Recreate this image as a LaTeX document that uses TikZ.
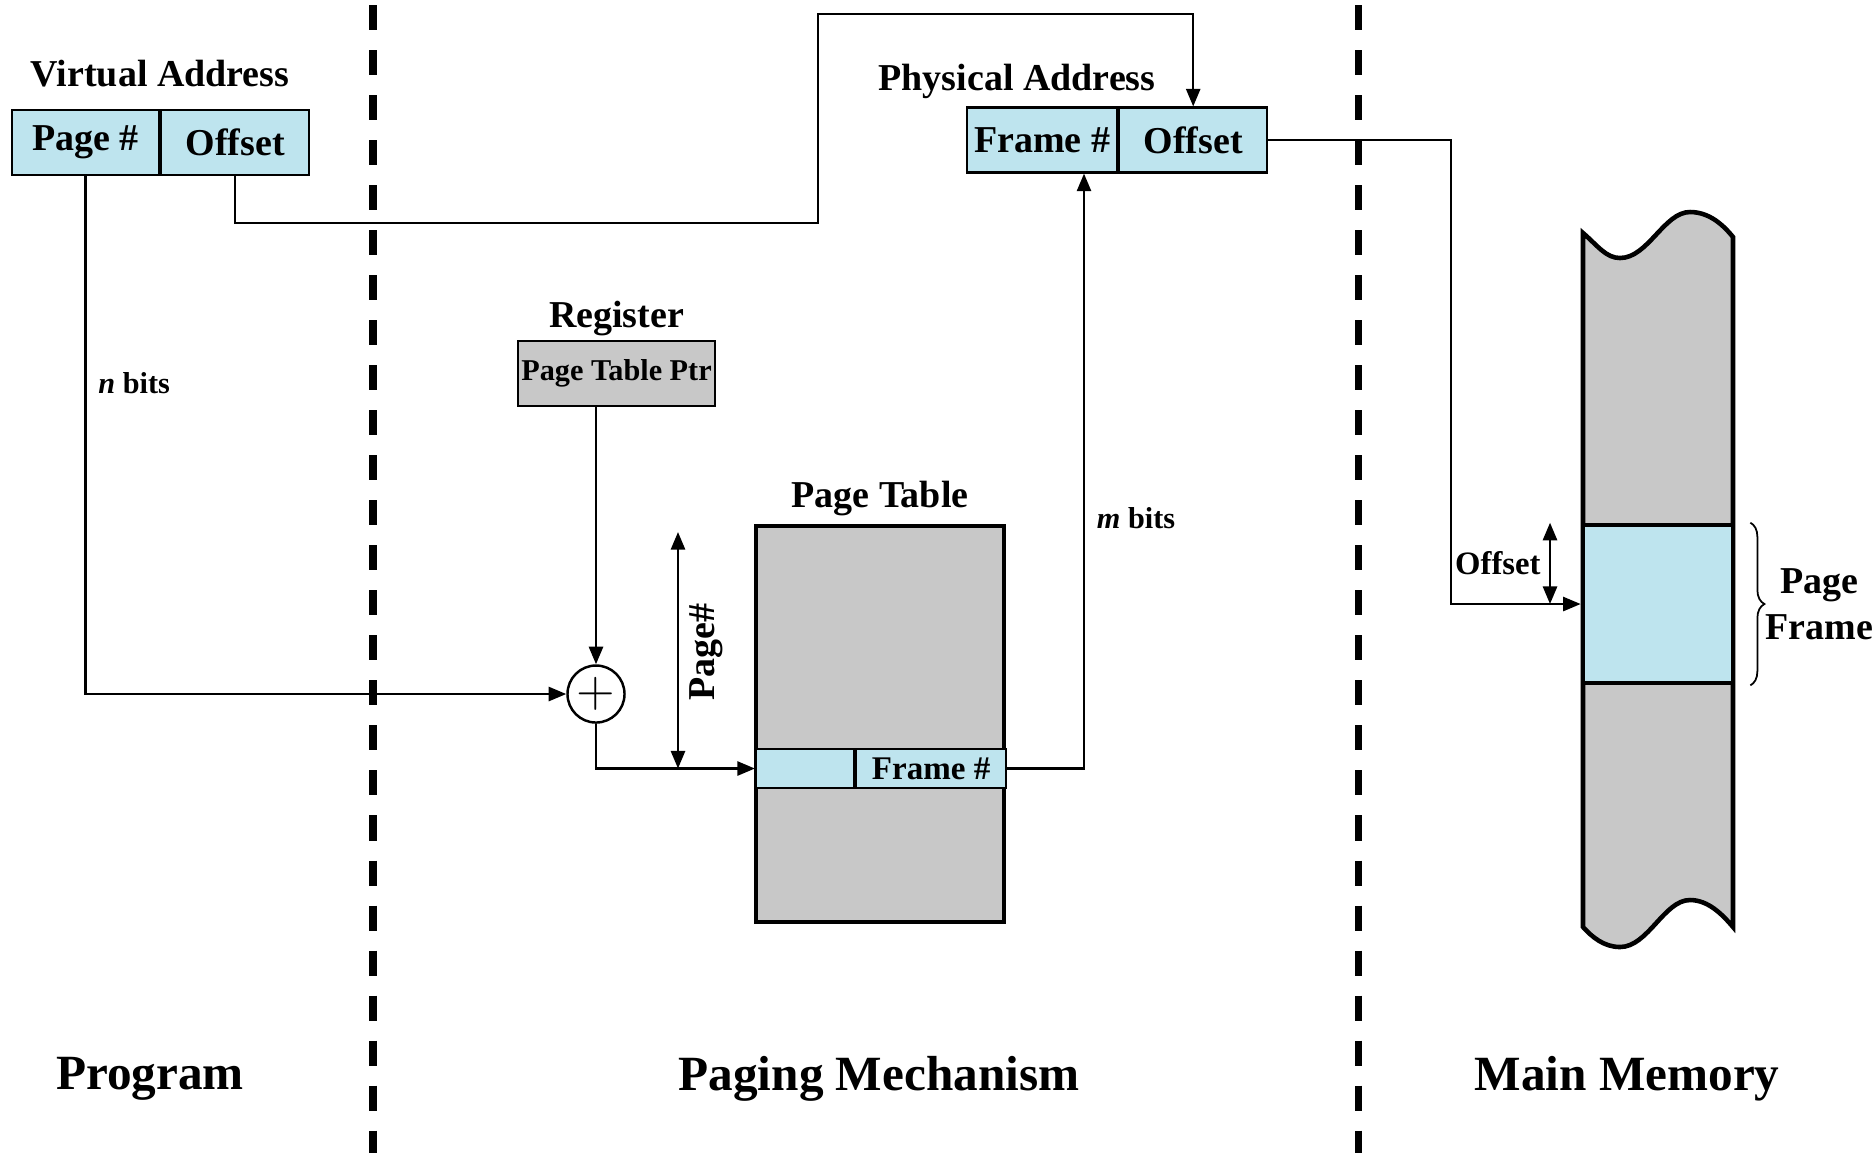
\documentclass[tikz,border=0pt]{standalone}
\usepackage{fontspec}
\setmainfont{Liberation Serif}
\usepackage{xcolor}
\usepackage{tikz}
\usetikzlibrary{arrows.meta,positioning,decorations.pathreplacing}

\definecolor{fieldblue}{RGB}{190,228,238}
\definecolor{tablegray}{RGB}{200,200,200}

\begin{document}
\begin{tikzpicture}[
x=0.01cm, y=-0.01cm,
field/.style={
draw,
fill=fieldblue,
line width=0.6pt,
minimum height=0.65cm,
inner sep=0pt,
font=\fontsize{10.8}{13}\selectfont\bfseries
},
title/.style={
font=\fontsize{10.8}{13}\selectfont\bfseries,
inner sep=1pt
},
small/.style={
font=\fontsize{8.6}{10}\selectfont\bfseries
},
region/.style={
font=\fontsize{14}{17}\selectfont\bfseries
},
arrow/.style={
-{Triangle[length=5pt,width=4pt]},
line width=0.7pt
},
twoway/.style={
{Triangle[length=5pt,width=4pt]}-{Triangle[length=5pt,width=4pt]},
line width=0.7pt
},
divider/.style={
line width=2pt,
dash pattern=on 0.25cm off 0.2cm
}
]
\useasboundingbox (0,0) rectangle (1876,1153);

% Adressen
\node[field, minimum width=1.47cm] (va-page) at (85.5,142.5) {Page \#};
\node[field, minimum width=1.48cm, right=0pt of va-page] (va-offset) {Offset};
\node[title, above=5pt of va-page.north east] (va-label) {Virtual Address};
\node[field, minimum width=1.5cm] (pa-frame) at (1042,140) {Frame \#};
\node[field, minimum width=1.48cm, right=0pt of pa-frame] (pa-offset) {Offset};
\node[title] (pa-label) at (1017,81) {Physical Address};

% Register und Seitentabelle
\node[draw, fill=tablegray, line width=0.6pt, minimum width=1.97cm, minimum height=0.65cm, inner sep=0pt, font=\fontsize{8.6}{10}\selectfont\bfseries] (reg) at (616.5,373.5) {Page Table Ptr};
\node[title, above=0pt of reg] (reg-label) {Register};
\node[draw, circle, line width=0.7pt, minimum size=0.57cm, inner sep=0pt, font=\fontsize{14}{14}\selectfont] (plus) at (596,694) {$+$};
\node[draw, fill=tablegray, line width=1.3pt, minimum width=2.48cm, minimum height=3.96cm] (pt) at (880,724) {};
\node[title, above=1pt of pt] (pt-label) {Page Table};
\node[field, minimum width=0.98cm, minimum height=0.39cm] (pt-page) at (805,768.5) {};
\node[field, minimum width=1.5cm, minimum height=0.39cm, right=0pt of pt-page, font=\fontsize{9.4}{11}\selectfont\bfseries] (pt-frame) {Frame \#};
\coordinate (pg-top) at (678,532);
\node[title, rotate=90] (pg-label) at (706,652) {Page\#};

% Hauptspeicher
\draw[fill=tablegray, line width=1.3pt] (1583,927) -- (1583,233)
  .. controls (1598,246) and (1606,258) .. (1620,258)
  .. controls (1648,258) and (1664,212) .. (1690,212)
  .. controls (1710,212) and (1724,226) .. (1733,237) -- (1733,927)
  .. controls (1722,914) and (1708,900) .. (1690,900)
  .. controls (1664,900) and (1648,947) .. (1620,947)
  .. controls (1604,947) and (1592,937) .. (1583,927) -- cycle;
\node[draw, fill=fieldblue, line width=1.3pt, minimum width=1.5cm, minimum height=1.58cm] (mem-frame) at (1658,604) {};
\draw[decorate, decoration={brace, amplitude=4pt}, line width=0.5pt] ([xshift=0.15cm]mem-frame.north east) -- ([xshift=0.15cm]mem-frame.south east) node[title, midway, right=4pt, inner sep=0pt, align=center] (pf-label) {Page\\Frame};

% Bereiche
\draw[divider] (373,5) -- (373,1153);
\draw[divider] (1358,5) -- (1358,1153);
\node[region] (program) at (150,1079) {Program};
\node[region] (paging) at (879,1079) {Paging Mechanism};
\node[region] (memory) at (1627,1079) {Main Memory};

% Verbindungen
\draw[arrow] (va-page.south) |- (plus) node[small, pos=0.2, right=0pt] {\textit{n} bits};
\draw[arrow] (va-offset.south) |- (818,223) -- (818,14) -| (pa-offset.north);
\draw[arrow] (reg.south -| plus) -- (plus);
\draw[arrow] (plus) |- (pt-page.west);
\draw[twoway] (pg-top) -- (pg-top |- pt-page.west);
\draw[arrow] (pt-frame.east) -| (1084,0 |- pa-frame.south) node[small, pos=0.71, right=0pt] {\textit{m} bits};
\draw[arrow] (pa-offset.east) -| (1451,0 |- mem-frame.west) -- (mem-frame.west);
\draw[twoway] (1550,0 |- mem-frame.north) -- (1550,0 |- mem-frame.west) node[midway, left=-1pt, font=\fontsize{9.3}{11}\selectfont\bfseries] {Offset};
\end{tikzpicture}
\end{document}
